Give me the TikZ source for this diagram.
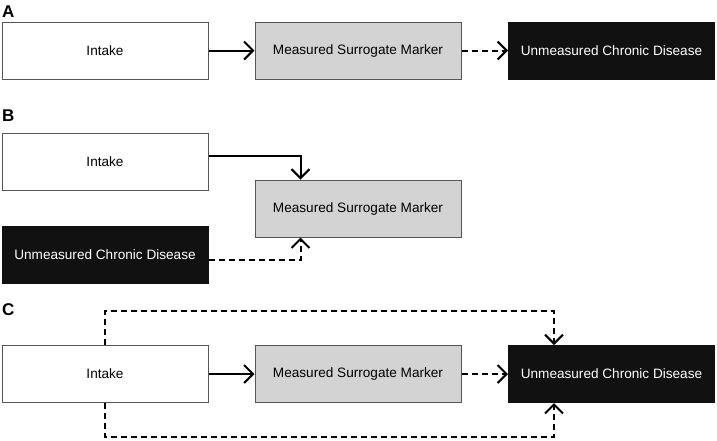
\documentclass[tikz,border=0pt]{standalone}
\usepackage{fontspec}
\setmainfont{Liberation Sans}
\usetikzlibrary{arrows.meta}
\definecolor{boxline}{HTML}{555555}
\definecolor{grayfill}{HTML}{D3D3D3}
\definecolor{darkfill}{HTML}{111111}
\tikzset{
  basebox/.style={draw=boxline, line width=1pt, minimum width=206pt, minimum height=57pt, inner sep=0pt, font=\fontsize{13.6}{16}\selectfont},
  intakebox/.style={basebox, fill=white},
  markerbox/.style={basebox, fill=grayfill},
  diseasebox/.style={basebox, fill=darkfill, draw=darkfill, text=white},
  panel/.style={anchor=base west, inner sep=0pt, font=\fontsize{17}{20}\selectfont\bfseries},
  solidarrow/.style={line width=2pt, -{Straight Barb[length=9pt,width=18pt,line width=2pt]}},
  dasharrow/.style={solidarrow, dash pattern=on 6pt off 4pt},
}
\begin{document}
\begin{tikzpicture}[x=1pt,y=-1pt]
\useasboundingbox (0,0) rectangle (717,440);
% Panel A
\node[panel] (la) at (2,17) {A};
\node[intakebox] (ai) at (105,50.5) {Intake};
\node[markerbox] (am) at (358,50.5) {Measured Surrogate Marker};
\node[diseasebox] (ad) at (611.5,50.5) {Unmeasured Chronic Disease};
\draw[solidarrow] (ai) -- (am);
\draw[dasharrow] (am) -- (ad);
% Panel B
\node[panel] (lb) at (2,121) {B};
\node[intakebox] (bi) at (105,162) {Intake};
\node[markerbox] (bm) at (358,208.5) {Measured Surrogate Marker};
\node[diseasebox] (bd) at (105,254.5) {Unmeasured Chronic Disease};
\coordinate (b1) at (300.5,156);
\coordinate (b2) at (300.5,260);
\draw[solidarrow] (bi.east |- b1) -- (b1) -- (b1 |- bm.north);
\draw[dasharrow] (bd.east |- b2) -- (b2) -- (b2 |- bm.south);
% Panel C
\node[panel] (lc) at (2,315) {C};
\node[intakebox] (ci) at (105,374) {Intake};
\node[markerbox] (cm) at (358,374) {Measured Surrogate Marker};
\node[diseasebox] (cd) at (611.5,374) {Unmeasured Chronic Disease};
\draw[solidarrow] (ci) -- (cm);
\draw[dasharrow] (cm) -- (cd);
\coordinate (c1) at (105,311);
\coordinate (c2) at (554,311);
\coordinate (c3) at (105,437);
\coordinate (c4) at (554,437);
\draw[dasharrow] (ci.north -| c1) -- (c1) -- (c2) -- (c2 |- cd.north);
\draw[dasharrow] (ci.south -| c3) -- (c3) -- (c4) -- (c4 |- cd.south);
\end{tikzpicture}
\end{document}
